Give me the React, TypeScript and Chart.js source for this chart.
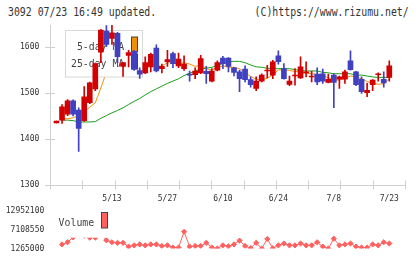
import { useEffect, useRef } from 'react';
import { Chart, registerables } from 'chart.js';

Chart.register(...registerables);

// ---- data ----
const dates = ['4/24','4/25','4/26','4/30','5/1','5/2','5/7','5/8','5/9','5/10','5/13','5/14','5/15','5/16','5/17','5/20','5/21','5/22','5/23','5/24','5/27','5/28','5/29','5/30','5/31','6/3','6/4','6/5','6/6','6/7','6/10','6/11','6/12','6/13','6/14','6/17','6/18','6/19','6/20','6/21','6/24','6/25','6/26','6/27','6/28','7/1','7/2','7/3','7/4','7/5','7/8','7/9','7/10','7/11','7/12','7/16','7/17','7/18','7/19','7/22','7/23'];
const xTickLabels = ['5/13','5/27','6/10','6/24','7/8','7/23'];

const opens  = [1434,1440,1453,1482,1462,1439,1478,1508,1588,1634,1618,1629,1557,1581,1589,1548,1543,1556,1597,1552,1567,1585,1558,1552,1540,1539,1543,1546,1525,1549,1575,1575,1554,1545,1551,1528,1509,1525,1547,1538,1580,1552,1518,1536,1532,1543,1534,1540,1541,1522,1538,1529,1529,1569,1545,1529,1500,1517,1539,1529,1533];
const highs  = [1438,1474,1485,1484,1467,1513,1523,1564,1637,1646,1647,1631,1566,1592,1592,1554,1578,1586,1604,1562,1592,1588,1586,1580,1547,1554,1581,1557,1552,1569,1579,1576,1555,1549,1558,1534,1534,1541,1559,1570,1591,1563,1536,1552,1578,1567,1546,1554,1551,1540,1541,1536,1549,1591,1546,1534,1520,1528,1543,1545,1569];
const lows   = [1434,1433,1450,1449,1372,1437,1476,1504,1565,1600,1605,1565,1535,1556,1548,1531,1541,1545,1545,1543,1557,1554,1554,1548,1525,1530,1541,1520,1523,1547,1552,1545,1536,1502,1523,1512,1504,1523,1532,1530,1562,1529,1515,1516,1531,1534,1523,1517,1520,1521,1467,1509,1520,1549,1515,1498,1491,1504,1525,1512,1525];
const closes = [1438,1469,1482,1453,1422,1491,1521,1563,1636,1605,1630,1578,1565,1587,1551,1540,1565,1583,1547,1557,1572,1563,1573,1562,1538,1547,1574,1541,1547,1565,1563,1557,1544,1530,1528,1517,1525,1538,1549,1567,1567,1530,1525,1538,1556,1545,1536,1523,1525,1529,1522,1534,1545,1550,1517,1502,1505,1527,1541,1521,1558];

const ma5  = [null,1443,1443,1445,1450,1459,1468,1478,1510,1545,1585,1602,1603,1593,1582,1564,1562,1565,1557,1558,1565,1564,1562,1565,1562,1557,1559,1552,1549,1555,1558,1555,1555,1552,1544,1535,1529,1528,1531,1539,1549,1550,1548,1546,1545,1542,1541,1539,1537,1532,1527,1527,1531,1536,1534,1530,1524,1520,1518,1519,1530];
const ma25 = [null,1440,1440,1439,1436,1436,1436,1437,1444,1450,1456,1461,1467,1474,1481,1487,1495,1502,1508,1514,1520,1525,1530,1537,1542,1547,1551,1553,1555,1559,1563,1567,1568,1568,1565,1560,1556,1555,1553,1552,1552,1552,1552,1550,1548,1547,1547,1547,1544,1543,1541,1541,1541,1541,1538,1538,1536,1534,1533,1533,1533];

const volumes = [null,2520000,3190000,4700000,5600000,5200000,4600000,4600000,6000000,3780000,3190000,3000000,3000000,1850000,2230000,2520000,2230000,2520000,2520000,2040000,2230000,1560000,1560000,6410000,1850000,2040000,2040000,3000000,1560000,1270000,2230000,1950000,2520000,3690000,2040000,1350000,3000000,1270000,4190000,1350000,2230000,2810000,2230000,2230000,2810000,2230000,2230000,3190000,1850000,1270000,4280000,2230000,2520000,2810000,1850000,1560000,1560000,2520000,2230000,3190000,2810000];

const priceTicks = [1300, 1400, 1500, 1600];
const volTicks = [1265000, 7108550, 12952100];

const seriesLabels = ['5-day MA', '25-day MA'];
const volumeLabel = 'Volume';
const titleLeft = '3092 07/23 16:49 updated.';
const titleRight = '(C)https://www.rizumu.net/';

// ---- styles ----
const RED = '#d20000';
const BLUE = '#4040c0';
const ORANGE = '#f0900a';
const GREEN = '#1a9e1a';
const VOL = '#ff6060';
const AXIS = '#d0d0d0';
const FONT = '"DejaVu Sans Mono", monospace';
const X_MIN = -1.17;
const X_MAX = 62.83;
const P_MIN = 1300;
const P_MAX = 1647;
const V_MIN = 1265000;
const V_MAX = 12952100;

const candleColor = (c: any) => {
  const i = c.dataIndex;
  return closes[i] >= opens[i] ? RED : BLUE;
};

const axisPlugin = {
  id: 'axisMarks',
  beforeDatasetsDraw(chart: any) {
    const { ctx, chartArea: a, scales } = chart;
    const x = scales.x;
    const y = scales.y;
    ctx.save();
    ctx.strokeStyle = AXIS;
    ctx.lineWidth = 1;
    ctx.beginPath();
    const lx = Math.round(a.left) + 0.5;
    const by = Math.round(a.bottom) + 0.5;
    ctx.moveTo(lx, a.top);
    ctx.lineTo(lx, a.bottom);
    ctx.moveTo(a.left, by);
    ctx.lineTo(a.right, by);
    priceTicks.forEach((v) => {
      const py = Math.round(y.getPixelForValue(v)) + 0.5;
      ctx.moveTo(a.left - 5, py);
      ctx.lineTo(a.left + 5, py);
    });
    for (let k = 0; k <= 11; k++) {
      const px = Math.round(x.getPixelForValue(x.min + (k * (x.max - x.min)) / 11)) + 0.5;
      ctx.moveTo(px, a.bottom - 4);
      ctx.lineTo(px, a.bottom + 5);
    }
    ctx.stroke();
    ctx.restore();
  },
};

const priceLegendPlugin = {
  id: 'priceLegend',
  beforeDatasetDraw(chart: any, args: any) {
    if (args.index !== 2) return;
    const ctx = chart.ctx;
    ctx.save();
    ctx.fillStyle = '#ffffff';
    ctx.fillRect(65, 30, 78, 47);
    ctx.strokeStyle = '#d8d8d8';
    ctx.lineWidth = 1;
    ctx.strokeRect(65.5, 30.5, 77, 46.5);
    ctx.font = '9.85px ' + FONT;
    ctx.textAlign = 'right';
    ctx.textBaseline = 'alphabetic';
    const rows = [
      { label: chart.data.datasets[0].label, base: 50.3, color: ORANGE, top: 37 },
      { label: chart.data.datasets[1].label, base: 67, color: GREEN, top: 54 },
    ];
    rows.forEach((r) => {
      ctx.save();
      ctx.translate(124.3, r.base);
      ctx.scale(1, 1.1);
      ctx.fillStyle = '#444444';
      ctx.fillText(r.label, 0, 0);
      ctx.restore();
      ctx.fillStyle = r.color;
      ctx.fillRect(131.5, r.top, 6, 15);
      ctx.strokeStyle = '#444444';
      ctx.strokeRect(131.5, r.top, 6, 15);
    });
    ctx.restore();
  },
};

const volLegendPlugin = {
  id: 'volLegend',
  afterDatasetsDraw(chart: any) {
    const ctx = chart.ctx;
    ctx.save();
    ctx.fillStyle = '#ffffff';
    ctx.fillRect(55, 5, 57, 32.7);
    ctx.font = '9.85px ' + FONT;
    ctx.textAlign = 'left';
    ctx.textBaseline = 'alphabetic';
    ctx.save();
    ctx.translate(58.6, 25.7);
    ctx.scale(1, 1.1);
    ctx.fillStyle = '#444444';
    ctx.fillText(chart.data.datasets[0].label, 0, 0);
    ctx.restore();
    ctx.fillStyle = VOL;
    ctx.fillRect(101.5, 12.5, 6, 15.5);
    ctx.strokeStyle = '#444444';
    ctx.lineWidth = 1;
    ctx.strokeRect(101.5, 12.5, 6, 15.5);
    ctx.restore();
  },
};

export default function App() {
  const priceRef = useRef<HTMLCanvasElement>(null);
  const volRef = useRef<HTMLCanvasElement>(null);

  useEffect(() => {
    const tickFont = { family: FONT, size: 8 };
    const price = new Chart(priceRef.current as HTMLCanvasElement, {
      type: 'bar',
      data: {
        datasets: [
          {
            type: 'line',
            label: seriesLabels[0],
            data: ma5.map((v, i) => ({ x: i, y: v })) as any,
            borderColor: ORANGE,
            borderWidth: 1,
            pointRadius: 0,
            tension: 0,
            order: 4,
          },
          {
            type: 'line',
            label: seriesLabels[1],
            data: ma25.map((v, i) => ({ x: i, y: v })) as any,
            borderColor: GREEN,
            borderWidth: 1,
            pointRadius: 0,
            tension: 0,
            order: 3,
          },
          {
            type: 'bar',
            label: 'wick',
            data: lows.map((l, i) => ({ x: i, y: [l, highs[i]] })) as any,
            backgroundColor: candleColor as any,
            barThickness: 1,
            grouped: false,
            order: 2,
          },
          {
            type: 'bar',
            label: 'body',
            data: opens.map((o, i) => ({ x: i, y: [o, closes[i]] })) as any,
            backgroundColor: candleColor as any,
            barThickness: 5,
            grouped: false,
            order: 1,
          },
        ],
      },
      options: {
        animation: false,
        responsive: false,
        layout: { padding: { top: 25, right: 15, left: 0, bottom: 0 } },
        plugins: { legend: { display: false }, tooltip: { enabled: false } },
        scales: {
          x: {
            type: 'linear',
            min: X_MIN,
            max: X_MAX,
            offset: false,
            grid: { display: false, drawTicks: false, offset: false },
            border: { display: false },
            afterBuildTicks: (a: any) => {
              a.ticks = xTickLabels.map((l) => ({ value: dates.indexOf(l) }));
            },
            afterFit: (s: any) => {
              s.height = 20.5;
            },
            ticks: {
              autoSkip: false,
              maxRotation: 0,
              padding: 10,
              color: '#333333',
              font: tickFont,
              callback: (v: any) => dates[v as number] ?? '',
            },
          },
          y: {
            type: 'linear',
            min: P_MIN,
            max: P_MAX,
            grid: { display: false, drawTicks: false },
            border: { display: false },
            afterBuildTicks: (a: any) => {
              a.ticks = priceTicks.map((v) => ({ value: v }));
            },
            afterFit: (s: any) => {
              s.width = 50;
            },
            ticks: {
              padding: 10.7,
              color: '#333333',
              font: tickFont,
              callback: (v: any) => String(v),
            },
          },
        },
      },
      plugins: [axisPlugin, priceLegendPlugin],
    });

    const vol = new Chart(volRef.current as HTMLCanvasElement, {
      type: 'line',
      data: {
        datasets: [
          {
            label: volumeLabel,
            data: volumes.map((v, i) => ({ x: i, y: v })) as any,
            borderColor: VOL,
            borderWidth: 1,
            pointStyle: 'rectRot',
            pointRadius: 2.6,
            pointBackgroundColor: VOL,
            pointBorderColor: VOL,
            pointBorderWidth: 1,
            tension: 0,
          },
        ],
      },
      options: {
        animation: false,
        responsive: false,
        layout: { padding: { top: 9.3, bottom: 9.7, left: 0, right: 15 } },
        plugins: { legend: { display: false }, tooltip: { enabled: false } },
        scales: {
          x: { type: 'linear', min: X_MIN, max: X_MAX, offset: false, display: false },
          y: {
            type: 'linear',
            min: V_MIN,
            max: V_MAX,
            grid: { display: false, drawTicks: false },
            border: { display: false },
            afterBuildTicks: (a: any) => {
              a.ticks = volTicks.map((v) => ({ value: v }));
            },
            afterFit: (s: any) => {
              s.width = 50;
            },
            ticks: {
              padding: 5.7,
              color: '#333333',
              font: tickFont,
              callback: (v: any) => String(v),
            },
          },
        },
      },
      plugins: [volLegendPlugin],
    });

    return () => {
      price.destroy();
      vol.destroy();
    };
  }, []);

  const titleStyle: any = {
    position: 'absolute',
    top: 5.3,
    fontFamily: FONT,
    fontSize: '9.85px',
    lineHeight: 'normal',
    color: '#333333',
    whiteSpace: 'pre',
    transform: 'scaleY(1.25)',
    transformOrigin: 'top left',
  };

  return (
    <div style={{ position: 'absolute', left: 0, top: 0, width: 420, height: 259, background: '#ffffff', overflow: 'hidden' }}>
      <div style={{ ...titleStyle, left: 8 }}>{titleLeft}</div>
      <div style={{ ...titleStyle, left: 254.6 }}>{titleRight}</div>
      <canvas ref={priceRef} width={420} height={205} style={{ position: 'absolute', left: 0, top: 0 }} />
      <canvas ref={volRef} width={420} height={59} style={{ position: 'absolute', left: 0, top: 200 }} />
    </div>
  );
}
